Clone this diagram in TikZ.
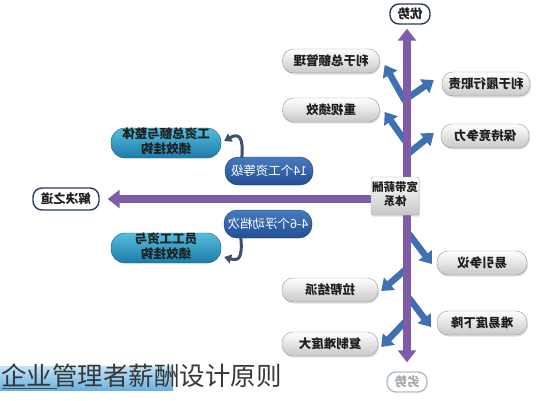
\documentclass[tikz,border=0pt]{standalone}
\usepackage{fontspec}
\setmainfont{Noto Sans CJK SC}
\usetikzlibrary{arrows.meta,calc,shadows}
\definecolor{purp}{RGB}{126,92,168}
\definecolor{brblue}{RGB}{62,112,178}
\definecolor{pillgray}{RGB}{200,200,200}
\definecolor{pilledge}{RGB}{150,150,150}
\definecolor{tealtop}{RGB}{85,190,222}
\definecolor{tealbot}{RGB}{28,122,168}
\definecolor{tealedge}{RGB}{30,90,130}
\definecolor{dbtop}{RGB}{72,122,192}
\definecolor{dbbot}{RGB}{34,78,148}
\definecolor{dbedge}{RGB}{30,60,110}
\definecolor{hookc}{RGB}{58,80,110}
\definecolor{labedge}{RGB}{40,60,85}
\definecolor{lightedge}{RGB}{175,190,205}
\definecolor{txtdark}{RGB}{30,30,30}
\definecolor{hltop}{RGB}{195,228,246}
\definecolor{hlbot}{RGB}{105,178,224}
\newcommand\mirr[1]{\reflectbox{#1}}
\newcommand\twol[2]{\mirr{\begin{tabular}{@{}c@{}}#1\\#2\end{tabular}}}
\begin{document}
\begin{tikzpicture}[x=1pt,y=-1pt,
  graypill/.style={rounded corners=11pt, minimum height=24pt, inner sep=0pt,
    draw=pilledge, top color=white, bottom color=pillgray, text=txtdark,
    font=\fontsize{12.5}{14}\selectfont\bfseries,
    drop shadow={opacity=0.25, shadow xshift=1pt, shadow yshift=-1.5pt}},
  tealpill/.style={rounded corners=14pt, minimum height=30pt, minimum width=110pt,
    inner sep=0pt, draw=tealedge, top color=tealtop, bottom color=tealbot,
    text=txtdark, font=\fontsize{12.5}{13.5}\selectfont\bfseries},
  dbpill/.style={rounded corners=13pt, minimum height=28pt, minimum width=88pt,
    inner sep=0pt, draw=dbedge, top color=dbtop, bottom color=dbbot,
    text=white, font=\fontsize{12.5}{14}\selectfont},
  labbox/.style={rounded corners=9pt, minimum height=20pt, inner sep=0pt,
    draw=labedge, line width=1.4pt, fill=white, text=txtdark,
    font=\fontsize{12.5}{14}\selectfont\bfseries},
  purparrow/.style={draw=purp, line width=8.5pt,
    -{Triangle[width=18pt,length=12pt]}},
  brarrow/.style={draw=brblue, line width=6.5pt,
    -{Triangle[width=16pt,length=11pt]}},
  hookarrow/.style={draw=hookc, line width=3pt,
    -{Triangle[width=9pt,length=7pt]}}
]
\useasboundingbox (0,0) rectangle (538,400);

% title
\fill[top color=hltop, bottom color=hlbot] (0,366) rectangle (173,390);
\node[anchor=base west, inner sep=0pt, font=\fontsize{25.5}{30}\selectfont,
  text={rgb,255:red,55;green,55;blue,55}] (title) at (1,385) {企业管理者薪酬设计原则};
\draw[line width=1pt, black!70] (2,388.5) -- (57,388.5);

% top / bottom / solution labels
\node[labbox, minimum width=40pt] (top) at (410,14) {\mirr{优势}};
\node[labbox, minimum width=40pt, draw=lightedge, text=black!35] (bot) at (407,382) {\mirr{劣势}};
\node[labbox, minimum width=66pt, minimum height=22pt] (sol) at (66,199) {\mirr{解决之道}};

% pills right
\node[graypill, minimum width=88pt] (r1) at (486,84) {\mirr{利于履行职责}};
\node[graypill, minimum width=88pt] (r2) at (485,136) {\mirr{保持竞争力}};
\node[graypill, minimum width=90pt] (r3) at (482,263) {\mirr{易引争议}};
\node[graypill, minimum width=90pt] (r4) at (482,323) {\mirr{难易度下降}};
% pills left
\node[graypill, minimum width=97pt] (l1) at (331,61) {\mirr{利于总额管理}};
\node[graypill, minimum width=97pt] (l2) at (331,110) {\mirr{重视绩效}};
\node[graypill, minimum width=96pt] (l3) at (330,290) {\mirr{拉帮结派}};
\node[graypill, minimum width=96pt] (l4) at (330,344) {\mirr{复制难度大}};

% branch start points on the shaft
\coordinate (s1) at (409,97);
\coordinate (s2) at (409,153);
\coordinate (s3) at (409,234);
\coordinate (s4) at (409,298);
\coordinate (s5) at (405,101);
\coordinate (s6) at (405,141);
\coordinate (s7) at (405,270);
\coordinate (s8) at (405,322);

\draw[brarrow] (s1) -- ($(r1.west)+(-8,-4)$);
\draw[brarrow] (s2) -- ($(r2.west)+(-7,-3)$);
\draw[brarrow] (s3) -- ($(r3.west)+(-5,1)$);
\draw[brarrow] (s4) -- ($(r4.west)+(-6,4)$);
\draw[brarrow] (s5) -- ($(l1.east)+(5,4)$);
\draw[brarrow] (s6) -- ($(l2.east)+(5,2)$);
\draw[brarrow] (s7) -- ($(l3.east)+(3,1)$);
\draw[brarrow] (s8) -- ($(l4.east)+(3,3)$);

% centre box and main arrows
\coordinate (cc) at (407,196);
\draw[purparrow, shorten >=4pt] (cc) -- (cc |- top.south);
\draw[purparrow, shorten >=9pt] (cc) -- (cc |- bot.north);
\draw[purparrow, shorten >=8pt] (395,199) -- (sol.east |- 395,199);
\node[rounded corners=2pt, minimum width=48pt, minimum height=38pt, inner sep=0pt,
  draw=black!35, top color=white, bottom color=black!22, text=txtdark,
  font=\fontsize{11.5}{14}\selectfont\bfseries,
  drop shadow={opacity=0.25, shadow xshift=1pt, shadow yshift=-1.5pt}]
  (cb) at (395,196) {\twol{宽带薪酬}{体系}};

% left blue pills
\node[tealpill] (tz) at (166,143) {\twol{工资总额与整体}{绩效挂钩}};
\node[tealpill] (tb) at (166,248) {\twol{员工工资与}{绩效挂钩}};
\node[dbpill] (g14) at (269,171) {\mirr{14个工资等级}};
\node[dbpill] (g46) at (268,224) {\mirr{4-6个浮动档次}};

\draw[hookarrow] ($(g14.north west)+(17,1)$) .. controls +(2,-22) and +(14,-8) .. ($(tz.east)+(3,-2)$);
\draw[hookarrow] ($(g46.south west)+(17,-1)$) .. controls +(2,22) and +(14,4) .. ($(tb.east)+(3,9)$);
\end{tikzpicture}
\end{document}
